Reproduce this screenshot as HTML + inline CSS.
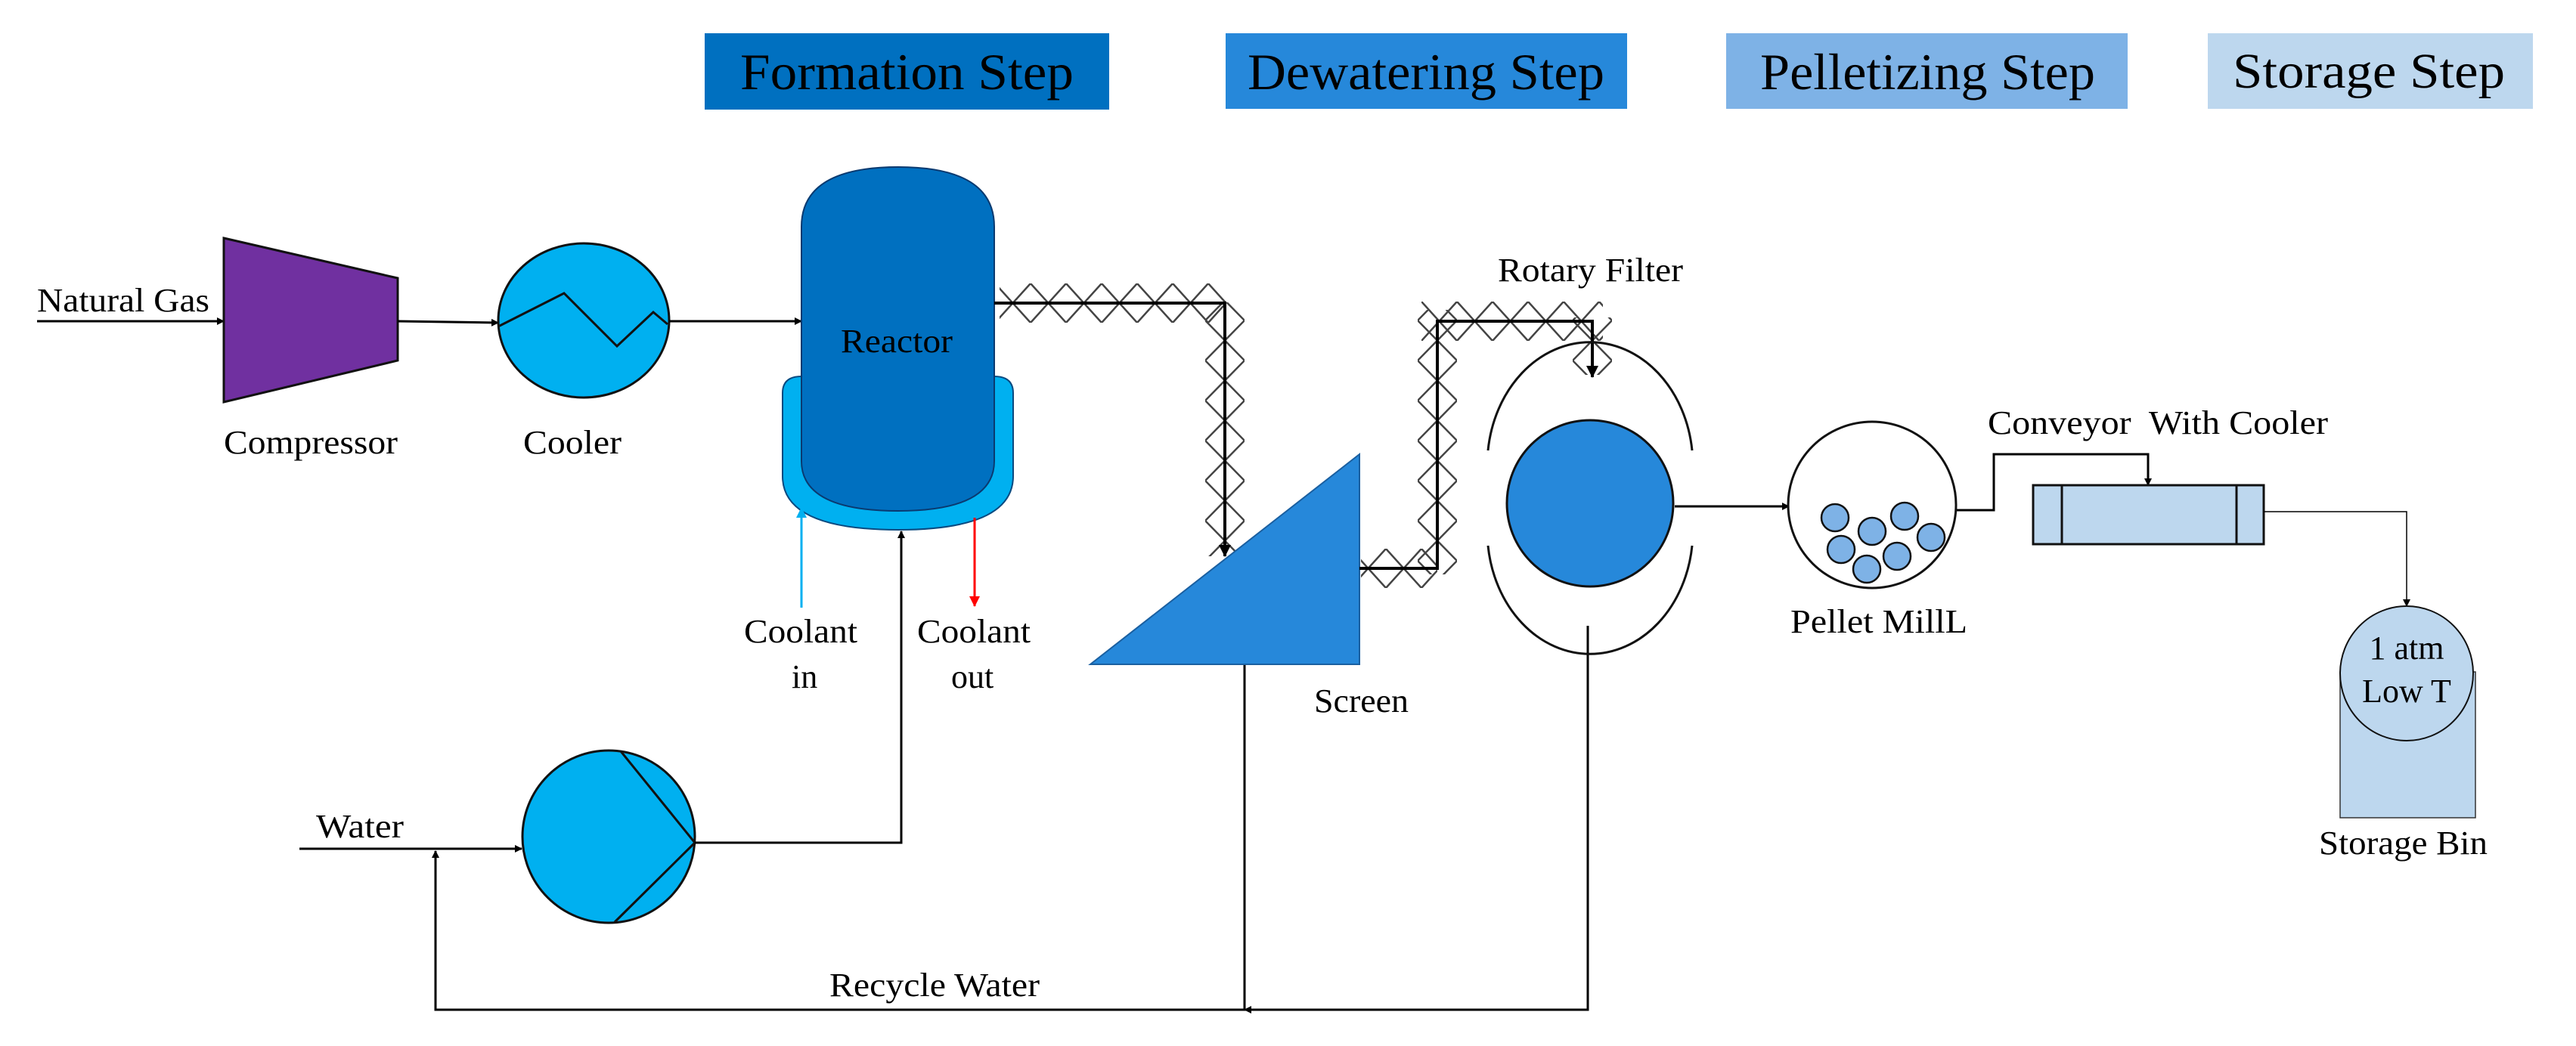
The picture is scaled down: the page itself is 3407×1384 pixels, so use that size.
<!DOCTYPE html>
<html><head><meta charset="utf-8"><style>
html,body{margin:0;padding:0;background:#fff}
svg{display:block}
text{font-family:"Liberation Serif",serif;fill:#000}
</style></head><body>
<svg width="3407" height="1384" viewBox="0 0 3407 1384" xmlns="http://www.w3.org/2000/svg" font-family="Liberation Serif, serif">
<defs>
<pattern id="ph" x="0" y="375" width="94" height="52" patternUnits="userSpaceOnUse">
<path d="M0,0 L47,52 L94,0 M0,52 L47,0 L94,52" stroke="#444" stroke-width="2.5" fill="none"/>
</pattern>
<pattern id="ph2" x="0" y="726" width="94" height="52" patternUnits="userSpaceOnUse">
<path d="M0,0 L47,52 L94,0 M0,52 L47,0 L94,52" stroke="#444" stroke-width="2.5" fill="none"/>
</pattern>
<pattern id="ph3" x="0" y="399" width="94" height="52" patternUnits="userSpaceOnUse">
<path d="M0,0 L47,52 L94,0 M0,52 L47,0 L94,52" stroke="#444" stroke-width="2.5" fill="none"/>
</pattern>
<pattern id="pv" x="1594" y="0" width="52" height="106" patternUnits="userSpaceOnUse">
<path d="M0,0 L52,53 L0,106 M52,0 L0,53 L52,106" stroke="#444" stroke-width="2.5" fill="none"/>
</pattern>
<pattern id="pv2" x="1875" y="0" width="52" height="106" patternUnits="userSpaceOnUse">
<path d="M0,0 L52,53 L0,106 M52,0 L0,53 L52,106" stroke="#444" stroke-width="2.5" fill="none"/>
</pattern>
<pattern id="pv3" x="2080" y="0" width="52" height="106" patternUnits="userSpaceOnUse">
<path d="M0,0 L52,53 L0,106 M52,0 L0,53 L52,106" stroke="#444" stroke-width="2.5" fill="none"/>
</pattern>
<marker id="a" markerWidth="10" markerHeight="10" refX="9" refY="5" orient="auto" markerUnits="userSpaceOnUse"><path d="M0,0 L10,5 L0,10 z" fill="#000"/></marker>
<marker id="ab" markerWidth="14" markerHeight="14" refX="13" refY="7" orient="auto" markerUnits="userSpaceOnUse"><path d="M0,0 L14,7 L0,14 z" fill="#00B0F0"/></marker>
<marker id="ar" markerWidth="14" markerHeight="14" refX="13" refY="7" orient="auto" markerUnits="userSpaceOnUse"><path d="M0,0 L14,7 L0,14 z" fill="#FF0000"/></marker>
<marker id="ak" markerWidth="16" markerHeight="16" refX="15" refY="8" orient="auto" markerUnits="userSpaceOnUse"><path d="M0,0 L16,8 L0,16 z" fill="#000"/></marker>
</defs>

<!-- headers -->
<rect x="932" y="44" width="535" height="101" fill="#0070C0"/>
<text x="979" y="118" font-size="68" textLength="441" lengthAdjust="spacingAndGlyphs">Formation Step</text>
<rect x="1621" y="44" width="531" height="100" fill="#2688DA"/>
<text x="1650" y="118" font-size="68" textLength="472" lengthAdjust="spacingAndGlyphs">Dewatering Step</text>
<rect x="2283" y="44" width="531" height="100" fill="#7EB2E6"/>
<text x="2328" y="118" font-size="68" textLength="443" lengthAdjust="spacingAndGlyphs">Pelletizing Step</text>
<rect x="2920" y="44" width="430" height="100" fill="#BDD7EE"/>
<text x="2953" y="116" font-size="66" textLength="360" lengthAdjust="spacingAndGlyphs">Storage Step</text>

<!-- Natural gas -->
<text x="49" y="412" font-size="44" textLength="228" lengthAdjust="spacingAndGlyphs">Natural Gas</text>
<line x1="49" y1="425" x2="296" y2="425" stroke="#000" stroke-width="3" marker-end="url(#a)"/>
<polygon points="296,315 526,368 526,477 296,532" fill="#7030A0" stroke="#111" stroke-width="3"/>
<text x="296" y="600" font-size="44" textLength="230" lengthAdjust="spacingAndGlyphs">Compressor</text>
<line x1="526" y1="425" x2="659" y2="427" stroke="#000" stroke-width="3" marker-end="url(#a)"/>

<!-- cooler -->
<ellipse cx="772" cy="424" rx="113" ry="102" fill="#00B0F0" stroke="#111" stroke-width="3"/>
<polyline points="659,432 746,388 816,458 864,413 883,429" fill="none" stroke="#111" stroke-width="3"/>
<text x="692" y="600" font-size="44" textLength="130" lengthAdjust="spacingAndGlyphs">Cooler</text>
<line x1="885" y1="425" x2="1060" y2="425" stroke="#000" stroke-width="3" marker-end="url(#a)"/>

<!-- reactor -->
<path d="M1035,520 Q1035,498 1060,498 L1315,498 Q1340,498 1340,520 L1340,630 Q1340,701 1188,701 Q1035,701 1035,630 Z" fill="#00B0F0" stroke="#0a4a80" stroke-width="2"/>
<path d="M1060,300 Q1060,221 1188,221 Q1315,221 1315,300 L1315,610 Q1315,676 1188,676 Q1060,676 1060,610 Z" fill="#0070C0" stroke="#0a3a70" stroke-width="2"/>
<text x="1112" y="466" font-size="44" textLength="148" lengthAdjust="spacingAndGlyphs">Reactor</text>

<line x1="1060" y1="804" x2="1060" y2="672" stroke="#00B0F0" stroke-width="3" marker-end="url(#ab)"/>
<line x1="1289" y1="685" x2="1289" y2="802" stroke="#FF0000" stroke-width="3" marker-end="url(#ar)"/>
<text x="984" y="850" font-size="44" textLength="150" lengthAdjust="spacingAndGlyphs">Coolant</text>
<text x="1047" y="910" font-size="44">in</text>
<text x="1213" y="850" font-size="44" textLength="150" lengthAdjust="spacingAndGlyphs">Coolant</text>
<text x="1258" y="910" font-size="44">out</text>

<!-- pump -->
<text x="418" y="1108" font-size="44" textLength="116" lengthAdjust="spacingAndGlyphs">Water</text>
<line x1="396" y1="1123" x2="690" y2="1123" stroke="#000" stroke-width="3" marker-end="url(#a)"/>
<ellipse cx="805" cy="1107" rx="114" ry="114" fill="#00B0F0" stroke="#111" stroke-width="3"/>
<polyline points="821,994 919,1115 813,1220" fill="none" stroke="#111" stroke-width="3"/>
<polyline points="919,1115 1192,1115 1192,703" fill="none" stroke="#000" stroke-width="3" marker-end="url(#a)"/>

<!-- recycle -->
<polyline points="2100,828 2100,1336 1646,1336" fill="none" stroke="#000" stroke-width="3" marker-end="url(#a)"/>
<polyline points="1646,879 1646,1336 576,1336 576,1126" fill="none" stroke="#000" stroke-width="3" marker-end="url(#a)"/>
<text x="1097" y="1318" font-size="44" textLength="278" lengthAdjust="spacingAndGlyphs">Recycle Water</text>

<!-- hatched pipe 1 -->
<rect x="1322" y="375" width="300" height="52" fill="url(#ph)"/>
<rect x="1594" y="400" width="52" height="336" fill="url(#pv)"/>
<polyline points="1315,401 1620,401 1620,736" fill="none" stroke="#000" stroke-width="4" marker-end="url(#ak)"/>

<!-- screen -->
<polygon points="1442,879 1798,601 1798,879" fill="#2688DA" stroke="#1a5fa0" stroke-width="2"/>
<text x="1738" y="942" font-size="44" textLength="125" lengthAdjust="spacingAndGlyphs">Screen</text>

<!-- hatched pipe 2 -->
<rect x="1800" y="726" width="101" height="52" fill="url(#ph2)"/>
<rect x="1875" y="410" width="52" height="350" fill="url(#pv2)"/>
<rect x="1880" y="399" width="240" height="52" fill="url(#ph3)"/>
<rect x="2080" y="420" width="52" height="76" fill="url(#pv3)"/>
<polyline points="1798,752 1901,752 1901,425 2106,425 2106,499" fill="none" stroke="#000" stroke-width="4" marker-end="url(#ak)"/>
<text x="1981" y="372" font-size="44" textLength="245" lengthAdjust="spacingAndGlyphs">Rotary Filter</text>

<!-- rotary filter -->
<ellipse cx="2103" cy="666" rx="110" ry="110" fill="#2688DA" stroke="#111" stroke-width="3"/>
<path d="M1968,596 A136,163 0 0 1 2238,596" fill="none" stroke="#111" stroke-width="3"/>
<path d="M1968,722 A136,163 0 0 0 2238,722" fill="none" stroke="#111" stroke-width="3"/>
<line x1="2215" y1="670" x2="2366" y2="670" stroke="#000" stroke-width="3" marker-end="url(#a)"/>

<!-- pellet mill -->
<ellipse cx="2476" cy="668" rx="111" ry="110" fill="#fff" stroke="#111" stroke-width="3"/>
<g fill="#7EB2E6" stroke="#111" stroke-width="2.5">
<circle cx="2427" cy="685" r="18"/><circle cx="2476" cy="703" r="18"/><circle cx="2519" cy="683" r="18"/>
<circle cx="2554" cy="711" r="18"/><circle cx="2435" cy="727" r="18"/><circle cx="2509" cy="736" r="18"/>
<circle cx="2469" cy="753" r="18"/>
</g>
<text x="2368" y="837" font-size="44" textLength="234" lengthAdjust="spacingAndGlyphs">Pellet MillL</text>

<!-- conveyor -->
<polyline points="2588,675 2637,675 2637,601 2841,601 2841,642" fill="none" stroke="#000" stroke-width="3" marker-end="url(#a)"/>
<text x="2629" y="574" font-size="44" textLength="450" lengthAdjust="spacingAndGlyphs">Conveyor&#160; With Cooler</text>
<rect x="2689" y="642" width="305" height="78" fill="#BDD7EE" stroke="#111" stroke-width="3"/>
<line x1="2727" y1="642" x2="2727" y2="720" stroke="#111" stroke-width="3"/>
<line x1="2958" y1="642" x2="2958" y2="720" stroke="#111" stroke-width="3"/>
<polyline points="2994,677 3183,677 3183,802" fill="none" stroke="#000" stroke-width="1.5" marker-end="url(#a)"/>

<!-- storage bin -->
<rect x="3095" y="889" width="179" height="193" fill="#BDD7EE" stroke="#333" stroke-width="1.5"/>
<ellipse cx="3183" cy="891" rx="88" ry="89" fill="#BDD7EE" stroke="#111" stroke-width="2"/>
<text x="3183" y="872" font-size="44" text-anchor="middle">1 atm</text>
<text x="3183" y="929" font-size="44" text-anchor="middle">Low T</text>
<text x="3067" y="1130" font-size="44" textLength="223" lengthAdjust="spacingAndGlyphs">Storage Bin</text>
</svg>
</body></html>
